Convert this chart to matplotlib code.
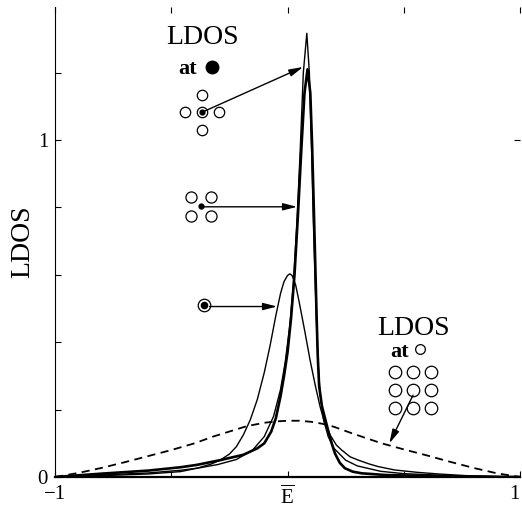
import matplotlib
matplotlib.use('Agg')
import matplotlib.pyplot as plt

plt.rcParams['font.family'] = ['Liberation Serif', 'DejaVu Serif']
plt.rcParams['mathtext.fontset'] = 'custom'
plt.rcParams['mathtext.rm'] = 'Liberation Serif'

# DATA
# ----
# thin curve with the tallest peak (site in the middle of the cross)
x_cross = [-1.0, -0.8, -0.6, -0.46, -0.38, -0.3, -0.22, -0.15, -0.1, -0.06, -0.03, -0.01,
           0.01, 0.025, 0.04, 0.054, 0.068, 0.083, 0.094, 0.104, 0.111, 0.118, 0.125, 0.132,
           0.14, 0.155, 0.175, 0.2, 0.25, 0.3, 0.4, 0.5, 0.7, 0.85, 1.0]
ldos_cross = [0.0, 0.006, 0.012, 0.02, 0.027, 0.037, 0.052, 0.08, 0.12, 0.18, 0.26, 0.34,
              0.45, 0.57, 0.75, 0.96, 1.20, 1.317, 1.20, 0.96, 0.76, 0.60, 0.45, 0.33,
              0.25, 0.17, 0.12, 0.085, 0.05, 0.033, 0.017, 0.01, 0.004, 0.002, 0.0]

# thick curve (plaquette centre)
x_square = [-1.0, -0.8, -0.6, -0.46, -0.39, -0.29, -0.19, -0.13, -0.1, -0.07, -0.05, -0.03,
            -0.015, 0.0, 0.015, 0.03, 0.045, 0.06, 0.073, 0.086, 0.098, 0.106, 0.113, 0.119,
            0.125, 0.13, 0.136, 0.148, 0.161, 0.176, 0.19, 0.204, 0.225, 0.247, 0.28, 0.319,
            0.42, 0.6, 0.8, 1.0]
ldos_square = [0.0, 0.01, 0.019, 0.029, 0.036, 0.05, 0.066, 0.085, 0.10, 0.135, 0.175, 0.24,
               0.30, 0.37, 0.47, 0.60, 0.78, 0.98, 1.14, 1.21, 1.14, 0.98, 0.80, 0.64,
               0.48, 0.36, 0.27, 0.21, 0.175, 0.135, 0.10, 0.07, 0.042, 0.026, 0.016, 0.011,
               0.006, 0.003, 0.001, 0.0]

# thin curve with the lower peak (single impurity)
x_single = [-1.0, -0.8, -0.6, -0.46, -0.39, -0.33, -0.29, -0.25, -0.22, -0.19, -0.16, -0.13,
            -0.1, -0.075, -0.05, -0.03, -0.015, 0.0, 0.01, 0.02, 0.035, 0.05, 0.075, 0.097,
            0.12, 0.14, 0.16, 0.183, 0.21, 0.233, 0.269, 0.305, 0.35, 0.39, 0.46, 0.556, 0.65,
            0.77, 0.9, 1.0]
ldos_single = [0.0, 0.004, 0.009, 0.016, 0.026, 0.038, 0.05, 0.068, 0.09, 0.125, 0.17, 0.23,
               0.31, 0.39, 0.48, 0.545, 0.58, 0.598, 0.603, 0.598, 0.57, 0.52, 0.43, 0.347,
               0.27, 0.209, 0.16, 0.125, 0.095, 0.08, 0.06, 0.05, 0.039, 0.031, 0.021, 0.014,
               0.009, 0.004, 0.001, 0.0]

# dashed curve, LDOS at a host site
x_host = [-1.0, -0.9, -0.8, -0.7, -0.6, -0.5, -0.4, -0.32, -0.25, -0.175, -0.1, -0.05, 0.0,
          0.05, 0.1, 0.15, 0.2, 0.276, 0.34, 0.405, 0.5, 0.6, 0.7, 0.8, 0.9, 1.0]
ldos_host = [0.0, 0.012, 0.027, 0.044, 0.062, 0.08, 0.1, 0.12, 0.135, 0.151, 0.161, 0.165, 0.167,
             0.167, 0.164, 0.158, 0.149, 0.13, 0.115, 0.10, 0.082, 0.064, 0.045, 0.027, 0.011, 0.0]

x_ticks = [-1, 0, 1]
x_ticklabels = ['\u22121', r'$\overline{\mathrm{E}}$', '1']
y_ticks = [0, 1]
y_ticklabels = ['0', '1']

# FIGURE
# ------
fig = plt.figure(figsize=(5.22, 5.08), dpi=100)
ax = fig.add_axes([0.1054, 0.061, 0.8908, 0.9252])

ax.plot(x_host, ldos_host, color='black', lw=1.3, linestyle=(0, (4.5, 3)))
ax.plot(x_single, ldos_single, color='black', lw=1.0)
ax.plot(x_cross, ldos_cross, color='black', lw=1.0)
ax.plot(x_square, ldos_square, color='black', lw=1.9)

ax.set_xlim(-1, 1)
ax.set_ylim(0, 1.395)

ax.set_xticks(x_ticks)
ax.set_xticklabels(x_ticklabels, fontsize=15)
ax.get_xticklabels()[-1].set_horizontalalignment('right')
ax.set_xticks([-0.5, 0.5], minor=True)
ax.set_yticks(y_ticks)
ax.set_yticklabels(y_ticklabels, fontsize=15)
ax.set_yticks([0.2, 0.4, 0.6, 0.8, 1.2], minor=True)
ax.tick_params(which='both', direction='in', length=4, width=0.8, top=True, right=True)
ax.tick_params(which='minor', right=False)
ax.tick_params(axis='x', pad=6)
ax.tick_params(axis='y', pad=5)

ax.spines['top'].set_visible(False)
ax.spines['right'].set_visible(False)
ax.spines['left'].set_linewidth(0.8)
ax.spines['bottom'].set_linewidth(1.6)

ax.set_ylabel('LDOS', fontsize=20, labelpad=2)

# ANNOTATIONS
# -----------
arrow = dict(arrowstyle='-|>,head_length=0.7,head_width=0.18', color='black', lw=1.0,
             mutation_scale=12, shrinkA=0, shrinkB=0)
ring = dict(marker='o', linestyle='none', mfc='white', mec='black', mew=0.9)

# top-left legend: LDOS at filled site
ax.text(-0.366, 1.305, 'LDOS', fontsize=20, ha='center', va='center')
ax.text(-0.428, 1.212, 'at', fontsize=16, fontweight='bold', ha='center', va='center')
ax.plot([-0.325], [1.217], marker='o', color='black', ms=9)

# cross of 4 neighbours around the marked site
ax.plot([-0.368, -0.368, -0.441, -0.295], [1.134, 1.030, 1.082, 1.082], ms=7.5, **ring)
ax.plot([-0.368], [1.082], ms=7.5, **ring)
ax.plot([-0.368], [1.082], marker='o', color='black', ms=3.5)
ax.annotate('', xy=(0.067, 1.217), xytext=(-0.36, 1.085), arrowprops=arrow)

# square plaquette
ax.plot([-0.415, -0.329, -0.415, -0.329], [0.831, 0.831, 0.774, 0.774], ms=8, **ring)
ax.plot([-0.372], [0.803], marker='o', color='black', ms=3.5)
ax.annotate('', xy=(0.041, 0.802), xytext=(-0.372, 0.802), arrowprops=arrow)

# single site
ax.plot([-0.359], [0.511], ms=9, **ring)
ax.plot([-0.359], [0.511], marker='o', color='black', ms=4.5)
ax.annotate('', xy=(-0.045, 0.506), xytext=(-0.335, 0.506), arrowprops=arrow)

# right legend: LDOS at open site
ax.text(0.544, 0.442, 'LDOS', fontsize=20, ha='center', va='center')
ax.text(0.484, 0.372, 'at', fontsize=16, fontweight='bold', ha='center', va='center')
ax.plot([0.57], [0.38], ms=7, **ring)
for gy in [0.312, 0.258, 0.205]:
    ax.plot([0.462, 0.540, 0.617], [gy, gy, gy], ms=9, **ring)
ax.annotate('', xy=(0.438, 0.1), xytext=(0.54, 0.243), arrowprops=arrow)

fig.savefig('out.png', dpi=100)
